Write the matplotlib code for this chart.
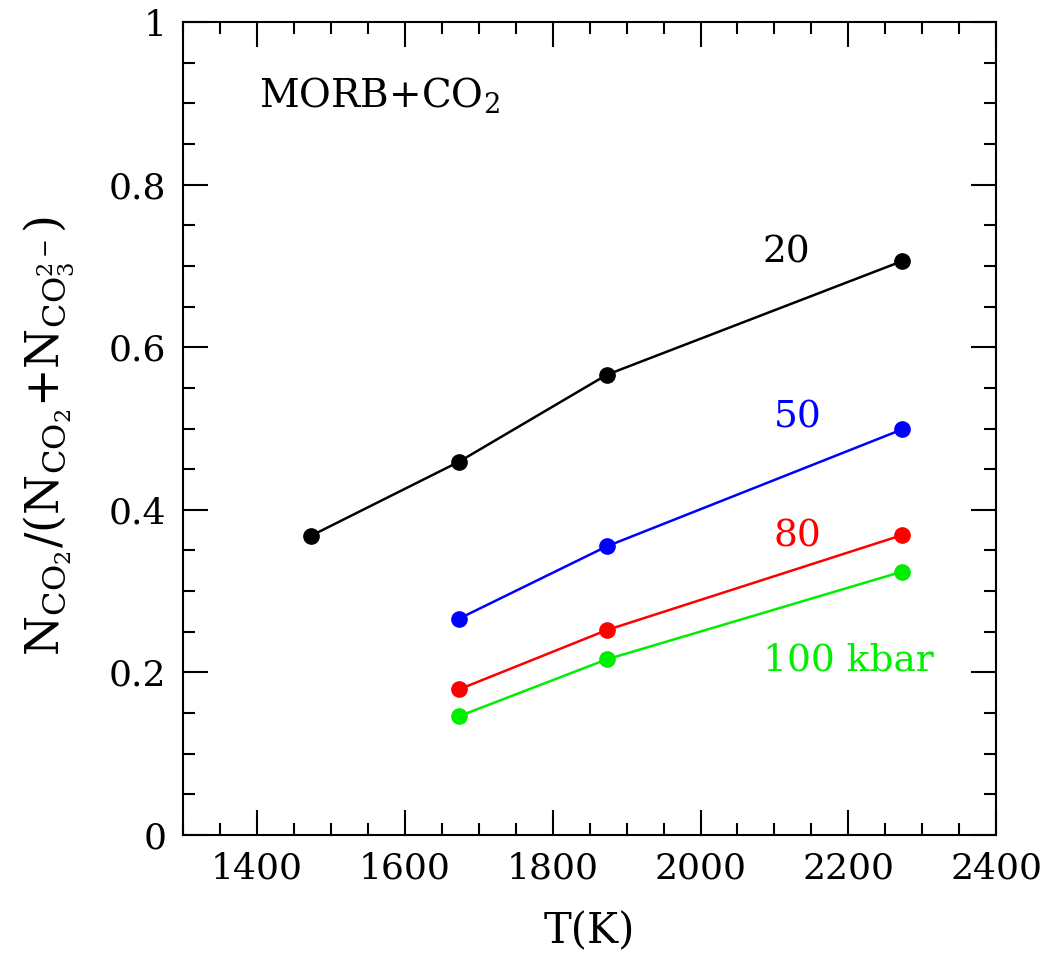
import matplotlib
matplotlib.use('Agg')
import matplotlib.pyplot as plt
from matplotlib.ticker import MultipleLocator

plt.rcParams['font.family'] = 'DejaVu Serif'
plt.rcParams['mathtext.fontset'] = 'dejavuserif'

# speciation of CO2 in MORB melt vs temperature, one curve per pressure
T_20 = [1473, 1673, 1873, 2273]
frac_20 = [0.368, 0.459, 0.566, 0.706]
T_hi = [1673, 1873, 2273]
frac_50 = [0.266, 0.355, 0.499]
frac_80 = [0.179, 0.252, 0.369]
frac_100 = [0.146, 0.216, 0.324]

curve_labels = ['20', '50', '80', '100 kbar']
curve_colors = ['black', 'blue', 'red', '#00ee00']

fig = plt.figure(figsize=(10.52, 9.65), dpi=100)
ax = fig.add_axes([0.174, 0.1347, 0.773, 0.8425])

series = [(T_20, frac_20), (T_hi, frac_50), (T_hi, frac_80), (T_hi, frac_100)]
for (t, f), c in zip(series, curve_colors):
    ax.plot(t, f, '-', color=c, lw=1.8, marker='o', ms=11, mec=c, mfc=c)

# pressure labels next to the curves
label_pos = [(2116, 0.717), (2131, 0.514), (2131, 0.367), (2200, 0.215)]
for lab, (x, y), c in zip(curve_labels, label_pos, curve_colors):
    ax.text(x, y, lab, color=c, fontsize=27, ha='center', va='center')

ax.text(0.093, 0.91, r'MORB+CO$_2$', transform=ax.transAxes, fontsize=28,
        ha='left', va='center')

ax.set_xlim(1300, 2400)
ax.set_ylim(0, 1)
ax.xaxis.set_major_locator(MultipleLocator(200))
ax.xaxis.set_minor_locator(MultipleLocator(50))
ax.yaxis.set_minor_locator(MultipleLocator(0.05))
ax.set_yticks([0, 0.2, 0.4, 0.6, 0.8, 1.0])
ax.set_yticklabels(['0', '0.2', '0.4', '0.6', '0.8', '1'])

ax.tick_params(which='both', direction='in', top=True, right=True,
               labelsize=26, width=1.5)
ax.tick_params(which='major', length=18, pad=12)
ax.tick_params(which='minor', length=8.6)
for s in ax.spines.values():
    s.set_linewidth(1.5)

ax.set_xlabel('T(K)', fontsize=30, labelpad=18)
ax.set_ylabel(r'N$_{\rm CO_2}$/(N$_{\rm CO_2}$+N$_{\rm CO_3^{2-}}$)',
              fontsize=33)
ax.yaxis.set_label_coords(-0.13, 0.49)

fig.savefig('out.png', dpi=100)
